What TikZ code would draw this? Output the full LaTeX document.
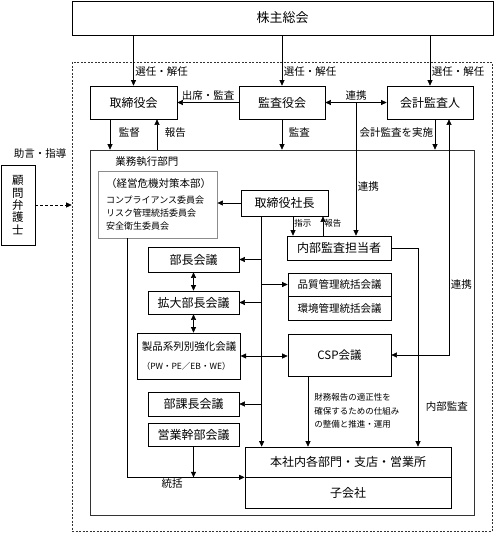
\documentclass[tikz,border=0pt]{standalone}
\usepackage{fontspec}
\setmainfont{Noto Sans CJK JP}
\usepackage{tikz}
\usetikzlibrary{calc}
\usetikzlibrary{positioning}
\usetikzlibrary{arrows.meta}
\newcommand{\boxfont}{\fontsize{12}{14}\selectfont}
\newcommand{\lblfont}{\fontsize{10.5}{12}\selectfont}
\newcommand{\smallfont}{\fontsize{8.5}{13.5}\selectfont}
\tikzset{
  orgbox/.style={
    draw=black,
    shape=rectangle,
    line width=0.7pt,
    align=center,
    inner sep=0pt,
    font=\boxfont
  },
  kikibox/.style={
    draw=black!45,
    shape=rectangle,
    line width=0.9pt,
    align=left,
    inner xsep=8pt,
    inner ysep=0pt,
    font=\fontsize{9}{13}\selectfont
  },
  outerbox/.style={
    draw=black!80,
    shape=rectangle,
    line width=0.6pt,
    dash pattern=on 2pt off 1.5pt
  },
  framebox/.style={
    draw=black!80,
    shape=rectangle,
    line width=0.7pt
  },
  orgarrow/.style={
    draw=black,
    line width=0.6pt,
    -{Triangle[length=5.5pt,width=5pt]}
  },
  orgdarrow/.style={
    draw=black,
    line width=0.6pt,
    {Triangle[length=5.5pt,width=5pt]}-{Triangle[length=5.5pt,width=5pt]}
  },
  orglabel/.style={
    font=\lblfont,
    inner sep=1.5pt
  },
  smalllabel/.style={
    font=\smallfont,
    inner sep=1pt
  },
}

\begin{document}
\begin{tikzpicture}[x=1pt, y=-1pt]
    \useasboundingbox (0,0) rectangle (494,533);

    % frames
    \node[outerbox, minimum width=420, minimum height=469] (outer) at (282,296.5) {};
    \node[framebox, minimum width=384, minimum height=365] (gyomu) at (282,332.5) {};
    \node[orglabel, anchor=west] (gyomulbl) at ([xshift=24pt,yshift=-12pt]gyomu.north west) {業務執行部門};

    % top
    \node[orgbox, minimum width=421, minimum height=34, font=\fontsize{13}{15}\selectfont] (kabunushi) at (282.5,18) {株主総会};
    \node[orgbox, minimum width=87, minimum height=33] (torishimari) at (133.5,102.5) {取締役会};
    \node[orgbox, minimum width=86, minimum height=33] (kansayaku)   at (282,102.5)   {監査役会};
    \node[orgbox, minimum width=86, minimum height=33] (kaikei)      at (430,102.5)   {会計監査人};

    \node[orgbox, minimum width=34, minimum height=80, font=\fontsize{11.5}{12.3}\selectfont] (komon) at (18,205) {顧\\問\\弁\\護\\士};
    \node[orglabel] (jogen) at (40,154) {助言・指導};

    % 業務執行部門
    \node[kikibox, minimum height=67, text width=103] (kiki) at (157.5,204.5)
      {{\fontsize{10.5}{13}\selectfont （経営危機対策本部）}\\[3pt]コンプライアンス委員会\\リスク管理統括委員会\\安全衛生委員会};
    \node[orgbox, minimum width=87, minimum height=26]  (shacho)   at (284.5,203) {取締役社長};
    \node[orgbox, minimum width=104, minimum height=24] (naibu)    at (339,248)   {内部監査担当者};
    \node[orgbox, minimum width=91, minimum height=25]  (bucho)    at (193.5,259.5) {部長会議};
    \node[orgbox, minimum width=91, minimum height=23]  (kakudai)  at (193.5,302.5) {拡大部長会議};
    \node[orgbox, minimum width=102, minimum height=46, align=left, inner xsep=4pt, font=\fontsize{10.5}{13}\selectfont] (seihin) at (189,356)
      {製品系列別強化会議\\[6pt]{\fontsize{8.5}{10}\selectfont （PW・PE／EB・WE）}};
    \node[orgbox, minimum width=91, minimum height=24]  (bukacho)  at (193.5,404) {部課長会議};
    \node[orgbox, minimum width=91, minimum height=23]  (eigyo)    at (193.5,434.5) {営業幹部会議};
    \node[orgbox, minimum width=103, minimum height=23, font=\fontsize{10.5}{12}\selectfont] (hinshitsu) at (339.5,284.5) {品質管理統括会議};
    \node[orgbox, minimum width=103, minimum height=24, font=\fontsize{10.5}{12}\selectfont] (kankyo) [below=0pt of hinshitsu] {環境管理統括会議};
    \node[orgbox, minimum width=103, minimum height=42, font=\fontsize{11.5}{13}\selectfont] (csp) at (339.5,355) {CSP会議};
    \node[orgbox, minimum width=206, minimum height=30] (honsha)   at (348,462) {本社内各部門・支店・営業所};
    \node[orgbox, minimum width=206, minimum height=31] (kogaisha) [below=0pt of honsha] {子会社};

    % 株主総会から
    \draw[orgarrow] (kabunushi.south -| torishimari.north) -- node[orglabel, right, pos=0.72] {選任・解任} (torishimari.north);
    \draw[orgarrow] (kabunushi.south -| kansayaku.north)   -- node[orglabel, right, pos=0.72] {選任・解任} (kansayaku.north);
    \draw[orgarrow] (kabunushi.south -| kaikei.north)      -- node[orglabel, right, pos=0.72] {選任・解任} (kaikei.north);

    \draw[orgarrow]  (kansayaku.west) -- node[orglabel, above] {出席・監査} (torishimari.east);
    \draw[orgdarrow] (kansayaku.east) -- node[orglabel, above] {連携} (kaikei.west);
    \coordinate (renkei) at ($(kansayaku.east)!0.5!(kaikei.west)$);
    \draw[orgarrow] (renkei) -- node[orglabel, right, pos=0.63] {連携} (renkei |- naibu.north);

    \draw[orgarrow] ([xshift=-23.5pt]torishimari.south) -- node[orglabel, right=7pt, pos=0.42] {監督} ([xshift=-23.5pt]torishimari.south |- gyomu.north);
    \draw[orgarrow] ([xshift=23.5pt]torishimari.south |- gyomu.north) -- node[orglabel, right=6pt, pos=0.58] {報告} ([xshift=23.5pt]torishimari.south);
    \draw[orgarrow] (kansayaku.south) -- node[orglabel, right=5pt, pos=0.42] {監査} (kansayaku.south |- gyomu.north);
    \draw[orgarrow] ([xshift=5pt]kaikei.south) -- node[orglabel, left, pos=0.42] {会計監査を実施} ([xshift=5pt]kaikei.south |- gyomu.north);
    \draw[orgdarrow] (csp.east) -| node[orglabel, right, pos=0.65] {連携} ([xshift=19pt]kaikei.south);

    \draw[orgarrow, dash pattern=on 3pt off 2pt] (komon.east) -- (komon.east -| outer.west);

    % 取締役社長から
    \draw[orgarrow] (shacho.west) -- (shacho.west -| kiki.east);
    \coordinate (trunk) at ($(shacho.south west)+(21,0)$);
    \draw[orgarrow] (trunk) -- (trunk |- honsha.north);
    \foreach \n in {bucho, kakudai, bukacho}
      \draw[orgarrow] (trunk |- \n.east) -- (\n.east);
    \draw[orgarrow]  (trunk |- hinshitsu.west) -- (hinshitsu.west);
    \draw[orgdarrow] (seihin.east) -- (seihin.east -| csp.west);

    \draw[orgarrow] ([xshift=8.5pt]shacho.south) -- node[smalllabel, right, pos=0.35] {指示} ([xshift=8.5pt]shacho.south |- naibu.north);
    \draw[orgarrow] ([xshift=38.5pt]shacho.south |- naibu.north) -- node[smalllabel, right, pos=0.65] {報告} ([xshift=38.5pt]shacho.south);

    \draw[orgarrow] (naibu.east) -| node[orglabel, right=6pt, pos=0.9] {内部監査} ([xshift=70pt]honsha.north);
    \draw[orgarrow] ([xshift=-31.5pt]csp.south) -- node[smalllabel, align=left, right=5pt, pos=0.49] {財務報告の適正性を\\確保するための仕組み\\の整備と推進・運用} ([xshift=-31.5pt]csp.south |- honsha.north);

    \draw[orgarrow] ([xshift=30pt]kiki.south west) |- node[orglabel, below, pos=0.69] {統括} (honsha.south west);
    \draw[orgarrow] (eigyo.south) -- (eigyo.south |- honsha.south west);

    \draw[orgdarrow] (bucho.south) -- (kakudai.north);
    \draw[orgdarrow] (kakudai.south) -- (kakudai.south |- seihin.north);
\end{tikzpicture}
\end{document}
